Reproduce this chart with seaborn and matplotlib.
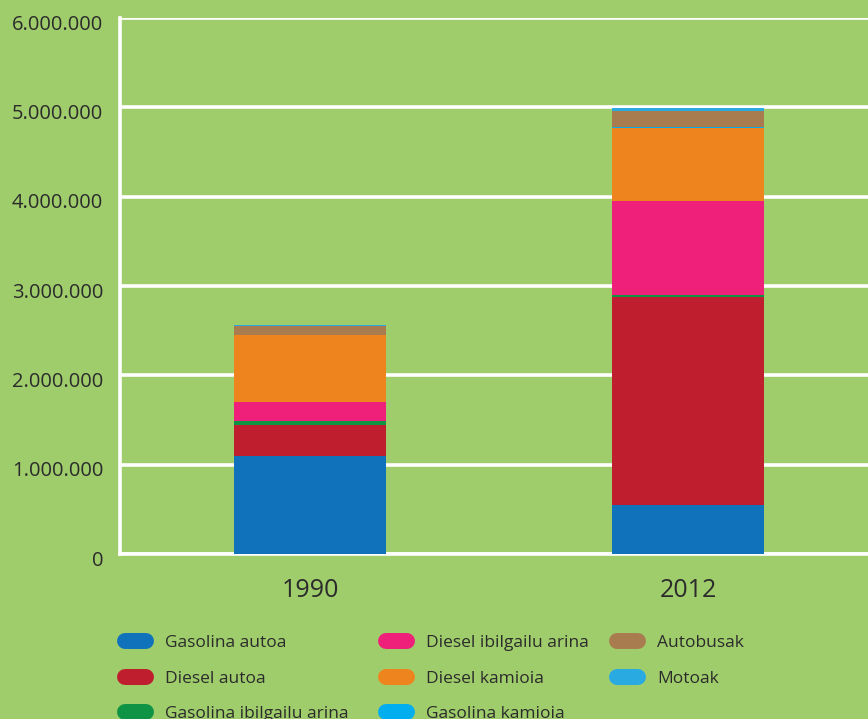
import numpy as np
import pandas as pd
import seaborn as sns
import matplotlib.pyplot as plt
import matplotlib.transforms as mtransforms
from matplotlib.lines import Line2D

years = ['1990', '2012']
categories = ['Gasolina autoa', 'Diesel autoa', 'Gasolina ibilgailu arina',
              'Diesel ibilgailu arina', 'Diesel kamioia', 'Gasolina kamioia',
              'Autobusak', 'Motoak']
values_1990 = [1100000, 344000, 40000, 221000, 748000, 2000, 96000, 15000]
values_2012 = [550000, 2323000, 23000, 1050000, 826000, 3000, 180000, 34000]
colors = ['#1072BA', '#BE1E2D', '#0F9446', '#EE2079', '#EE841E', '#00AEEF',
          '#A97C50', '#29ABE2']
yticks = [0, 1000000, 2000000, 3000000, 4000000, 5000000, 6000000]

bg = '#A0CD6C'
txt = '#2b2b2b'

sns.set_style("white")
plt.rcParams['font.family'] = ['Open Sans', 'DejaVu Sans']

df = pd.DataFrame({'year': np.repeat(years, len(categories)),
                   'type': categories * 2,
                   'value': values_1990 + values_2012})
df['type'] = pd.Categorical(df['type'], categories=categories, ordered=True)
df = df.sort_values(['year', 'type'])
df['cum'] = df.groupby('year')['value'].cumsum()

fig = plt.figure(figsize=(8.68, 7.19), dpi=100, facecolor=bg)
ax = fig.add_axes([120 / 868, 165 / 719, 1 - 120 / 868, (554 - 18) / 719])
ax.set_facecolor(bg)

# stacked bars: draw cumulative totals from the top down
for cat, col in reversed(list(zip(categories, colors))):
    sub = df[df['type'] == cat]
    sns.barplot(data=sub, x='year', y='cum', order=years, color=col,
                width=0.402, linewidth=0, saturation=1, ax=ax, zorder=3)

ax.set_xlim(-0.503, 1.476)
ax.set_ylim(0, 6000000)
ax.set_yticks(yticks)
ax.set_yticklabels([f"{v:,}".replace(',', '.') for v in yticks])
ax.set_xlabel('')
ax.set_ylabel('')
ax.grid(axis='y', color='white', linewidth=2.6, zorder=1)
ax.set_axisbelow(True)
for s in ['left', 'bottom']:
    ax.spines[s].set_color('white')
    ax.spines[s].set_linewidth(2.6)
    ax.spines[s].set_zorder(2)
ax.spines['top'].set_visible(False)
ax.spines['right'].set_visible(False)
ax.tick_params(axis='y', length=0, pad=12, labelsize=14.5, labelcolor=txt)
ax.tick_params(axis='x', length=0, pad=17, labelsize=18, labelcolor=txt)

# y labels sit a little below their grid lines
shift = mtransforms.ScaledTranslation(0, -4 / 100, fig.dpi_scale_trans)
for lab in ax.get_yticklabels():
    lab.set_transform(lab.get_transform() + shift)

# legend in three columns, placed by hand
cols = [[0, 1, 2], [3, 4, 5], [6, 7]]
col_x = [125, 386, 617]
for idx, x0 in zip(cols, col_x):
    handles = [Line2D([0, 1], [0, 0], color=colors[i], lw=11.5,
                      solid_capstyle='round') for i in idx]
    labels = [categories[i] for i in idx]
    fig.legend(handles, labels, loc='upper left',
               bbox_to_anchor=(x0 / 868, (719 - 635) / 719),
               frameon=False, fontsize=12.5, handlelength=1.2,
               handletextpad=1.1, labelspacing=1.12, borderpad=0,
               borderaxespad=0, labelcolor=txt)

fig.savefig('out.png', dpi=100, facecolor=bg)
